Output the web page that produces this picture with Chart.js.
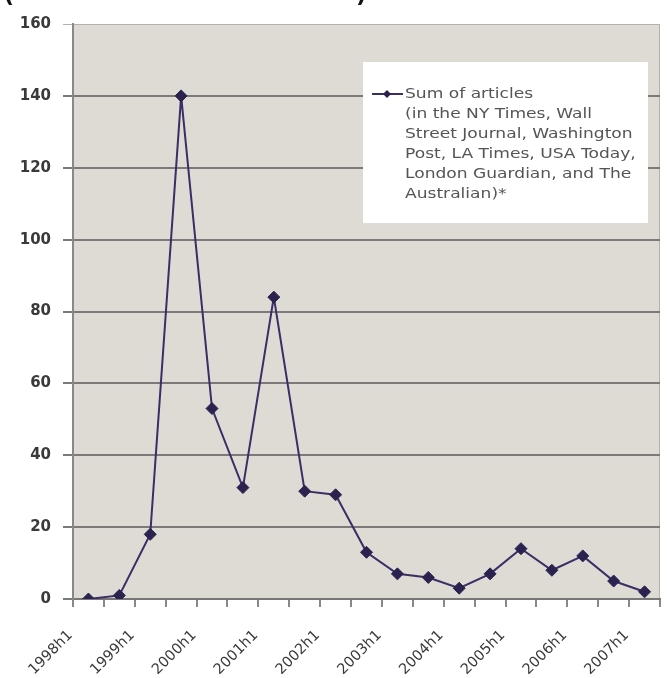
<!DOCTYPE html>
<html>
<head>
<meta charset="utf-8">
<script src="https://cdn.jsdelivr.net/npm/chart.js@4.4.1/dist/chart.umd.min.js"></script>
<style>
  html, body { margin: 0; padding: 0; background: #fff; }
  #wrap { position: relative; width: 667px; height: 678px; }
</style>
</head>
<body>
<div id="wrap"><canvas id="articlesChart" width="667" height="678"></canvas></div>
<script>
// === Dados do gráfico ===
const categories = [
  '1998h1', '1998h2', '1999h1', '1999h2', '2000h1', '2000h2', '2001h1', '2001h2',
  '2002h1', '2002h2', '2003h1', '2003h2', '2004h1', '2004h2', '2005h1', '2005h2',
  '2006h1', '2006h2', '2007h1'
];
const articleCounts = [0, 1, 18, 140, 53, 31, 84, 30, 29, 13, 7, 6, 3, 7, 14, 8, 12, 5, 2];
const yMin = 0;
const yMax = 160;
const yStep = 20;
const legendLines = [
  'Sum of articles',
  '(in the NY Times, Wall',
  'Street Journal, Washington',
  'Post, LA Times, USA Today,',
  'London Guardian, and The',
  'Australian)*'
];

const lineColor = '#3b2d66';
const pointColor = '#2c2250';
const fontFamily = "'DejaVu Sans', Verdana, sans-serif";

// === Fundo da área do gráfico ===
const plotBackground = {
  id: 'plotBackground',
  beforeDraw(chart) {
    const { ctx, chartArea: a } = chart;
    ctx.save();
    ctx.fillStyle = '#dedbd5';
    ctx.fillRect(a.left, a.top, a.right - a.left, a.bottom - a.top);
    // borda superior e direita
    ctx.strokeStyle = '#b5b2ad';
    ctx.lineWidth = 1;
    ctx.beginPath();
    ctx.moveTo(a.left, a.top + 0.5);
    ctx.lineTo(a.right - 0.5, a.top + 0.5);
    ctx.lineTo(a.right - 0.5, a.bottom);
    ctx.stroke();
    ctx.restore();
  }
};

// === Título cortado no topo (só os parênteses aparecem) ===
const clippedTitle = {
  id: 'clippedTitle',
  afterDraw(chart) {
    const ctx = chart.ctx;
    ctx.save();
    ctx.fillStyle = '#111';
    ctx.font = "bold 22px " + fontFamily;
    ctx.textBaseline = 'alphabetic';
    ctx.fillText('(', 4, 2);
    ctx.fillText(')', 356, 2);
    ctx.restore();
  }
};

// === Legenda em caixa branca, várias linhas ===
const boxLegend = {
  id: 'boxLegend',
  afterDraw(chart) {
    const ctx = chart.ctx;
    const box = { x: 363, y: 62, w: 285, h: 161 };
    ctx.save();
    ctx.fillStyle = '#ffffff';
    ctx.fillRect(box.x, box.y, box.w, box.h);

    const textX = 405;
    const firstY = 94;
    const lineH = 20;

    // marcador: linha com losango
    ctx.strokeStyle = lineColor;
    ctx.lineWidth = 2;
    ctx.beginPath();
    ctx.moveTo(372, firstY);
    ctx.lineTo(403, firstY);
    ctx.stroke();
    ctx.fillStyle = pointColor;
    ctx.beginPath();
    ctx.moveTo(387, firstY - 4);
    ctx.lineTo(391, firstY);
    ctx.lineTo(387, firstY + 4);
    ctx.lineTo(383, firstY);
    ctx.closePath();
    ctx.fill();

    // texto um pouco esticado na horizontal, como no original
    ctx.fillStyle = '#555';
    ctx.font = '14px ' + fontFamily;
    ctx.textBaseline = 'middle';
    ctx.translate(textX, 0);
    ctx.scale(1.22, 1);
    legendLines.forEach((line, i) => {
      ctx.fillText(line, 0, firstY + i * lineH);
    });
    ctx.restore();
  }
};

new Chart(document.getElementById('articlesChart').getContext('2d'), {
  type: 'line',
  data: {
    labels: categories,
    datasets: [{
      label: legendLines.join(' '),
      data: articleCounts,
      borderColor: lineColor,
      borderWidth: 2,
      backgroundColor: pointColor,
      pointStyle: 'rectRot',
      pointRadius: 6,
      pointBackgroundColor: pointColor,
      pointBorderColor: pointColor,
      pointBorderWidth: 1,
      tension: 0,
      fill: false
    }]
  },
  options: {
    responsive: false,
    animation: false,
    layout: { padding: { left: 0, top: 24, right: 5, bottom: 0 } },
    scales: {
      x: {
        offset: true,
        afterFit: s => {
          s.height = 79;
          s.paddingLeft = 0;
          s.paddingRight = 0;
        },
        grid: {
          offset: true,
          drawOnChartArea: false,
          drawTicks: true,
          tickLength: 8,
          color: '#888',
          lineWidth: 2
        },
        border: { color: '#777', width: 2 },
        ticks: {
          autoSkip: false,
          minRotation: 45,
          maxRotation: 45,
          labelOffset: -18,
          padding: 20,
          color: '#3a3a3a',
          font: { family: fontFamily, size: 14.5 },
          callback: (v, i) => (i % 2 === 0 ? categories[i] : '')
        }
      },
      y: {
        min: yMin,
        max: yMax,
        afterFit: s => { s.width = 73; },
        grid: {
          color: ctx => (ctx.tick && ctx.tick.value === yMax ? '#b5b2ad' : '#7a7a7a'),
          lineWidth: ctx => (ctx.tick && ctx.tick.value === yMax ? 1 : 2),
          tickLength: 10,
          drawTicks: true
        },
        border: { color: '#888', width: 2 },
        ticks: {
          stepSize: yStep,
          padding: 12,
          color: '#3a3a3a',
          font: { family: fontFamily, size: 15, weight: 'bold' }
        }
      }
    },
    plugins: {
      legend: { display: false },
      tooltip: { enabled: false }
    }
  },
  plugins: [plotBackground, boxLegend, clippedTitle]
});
</script>
</body>
</html>
